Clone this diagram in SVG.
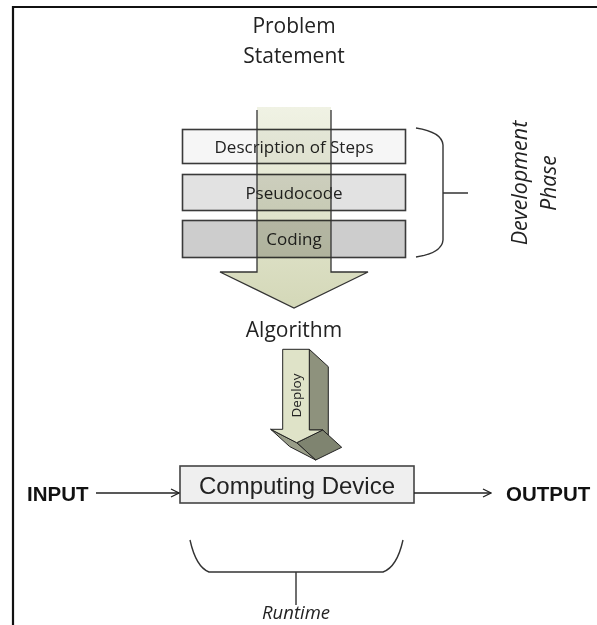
<svg xmlns="http://www.w3.org/2000/svg" width="597" height="625" viewBox="0 0 597 625">
<style>
.t{font-family:"Open Sans","Noto Sans",sans-serif;fill:#222}
.ti{font-family:"Open Sans","Noto Sans",sans-serif;font-style:italic;fill:#222}
.b{font-family:"Liberation Sans",Arial,sans-serif;font-weight:bold;fill:#111}
.box{stroke:#3a3a3a;stroke-width:1.6}
.ln{fill:none;stroke:#333;stroke-width:1.4}
</style>
<defs>
<linearGradient id="ag" x1="0" y1="0" x2="0" y2="1">
<stop offset="0" stop-color="#f0f2e4"/>
<stop offset="1" stop-color="#d4d8b8"/>
</linearGradient>
<marker id="ah" viewBox="0 0 10 10" refX="9" refY="5" markerWidth="10" markerHeight="10" markerUnits="userSpaceOnUse" orient="auto">
<path d="M1,1 L9,5 L1,9" fill="none" stroke="#222" stroke-width="1.3"/>
</marker>
</defs>
<rect width="597" height="625" fill="#fff"/>
<path d="M13,625 V7 H597" fill="none" stroke="#111" stroke-width="2.2"/>

<g id="problem"><text class="t" font-size="21" text-anchor="middle" x="294" y="33">Problem</text><text class="t" font-size="21" text-anchor="middle" x="294" y="63">Statement</text></g>

<g id="steps"><rect class="box" x="182.5" y="129.5" width="223" height="34" fill="#f6f6f6"/><text class="t" font-size="17" text-anchor="middle" x="294" y="153">Description of Steps</text></g>
<g id="pseudocode"><rect class="box" x="182.5" y="174.5" width="223" height="36" fill="#e2e2e2"/><text class="t" font-size="17" text-anchor="middle" x="294" y="199">Pseudocode</text></g>
<g id="coding"><rect class="box" x="182.5" y="220.5" width="223" height="37" fill="#cdcdcd"/><text class="t" font-size="17" text-anchor="middle" x="294" y="245">Coding</text></g>

<g id="bigarrow">
<polygon points="257,107 331,107 331,272 368,272 294,308 220,272 257,272" fill="url(#ag)" style="mix-blend-mode:multiply"/>
<path d="M257,110 V272 H220 L294,308 L368,272 H331 V110" fill="none" stroke="#333" stroke-width="1.3"/>
</g>

<g id="devbrace"><path class="ln" d="M416,128 Q442,132 443,145 V240 Q442,253 416,257 M443,193 H468"/>
<text class="ti" font-size="21.5" text-anchor="middle" transform="translate(527,183) rotate(-90)">Development</text>
<text class="ti" font-size="21" text-anchor="middle" transform="translate(556,183) rotate(-90)">Phase</text></g>

<g id="algorithm"><text class="t" font-size="21" text-anchor="middle" x="294" y="337">Algorithm</text></g>

<g id="deploy">
<polygon points="309.3,349.3 328.3,366.7 328.3,435.1 322.7,430 309.3,430" fill="#8e927d" stroke="#222" stroke-width="1"/>
<polygon points="322.7,430 296.7,442.7 315.7,460 341.7,447.3" fill="#7f8470" stroke="#222" stroke-width="1"/>
<polygon points="270.7,429.3 296.7,442.7 315.7,460 289.7,446.6" fill="#9a9e89" stroke="#222" stroke-width="1"/>
<polygon points="282.7,349.3 309.3,349.3 309.3,430 322.7,430 296.7,442.7 270.7,429.3 282.7,429.3" fill="#dfe3c8" stroke="#222" stroke-width="1"/>
<text class="t" font-size="13.5" text-anchor="middle" transform="translate(300.5,395.5) rotate(-90)">Deploy</text>
</g>

<g id="device"><rect x="180" y="466" width="234" height="37" fill="#efefef" stroke="#444" stroke-width="1.6"/><text font-family="Liberation Sans,Arial,sans-serif" font-size="24" fill="#222" text-anchor="middle" x="297" y="494">Computing Device</text></g>

<g id="input"><text class="b" font-size="20.5" x="27" y="501">INPUT</text></g>
<g id="output"><text class="b" font-size="20.5" x="506" y="501">OUTPUT</text></g>

<g id="connectors">
<line x1="96" y1="493" x2="179" y2="493" stroke="#222" stroke-width="1.3" marker-end="url(#ah)"/>
<line x1="414" y1="493" x2="491" y2="493" stroke="#222" stroke-width="1.3" marker-end="url(#ah)"/>
</g>

<g id="runtime"><path class="ln" d="M190,540 Q196,567 209,572 H383 Q397,567 403,540 M296,572 V605"/>
<text class="ti" font-size="18.5" text-anchor="middle" x="296" y="619">Runtime</text></g>
</svg>
